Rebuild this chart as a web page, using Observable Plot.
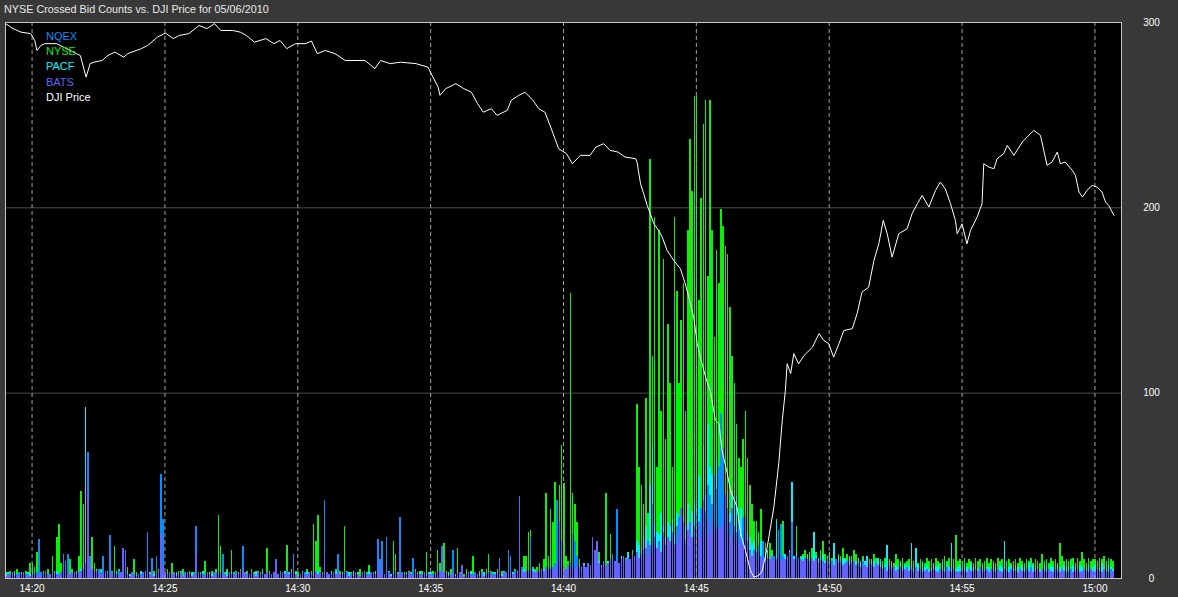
<!DOCTYPE html>
<html><head><meta charset="utf-8">
<script src="https://cdn.jsdelivr.net/npm/d3@7"></script>
<script src="https://cdn.jsdelivr.net/npm/@observablehq/plot@0.6"></script>
<style>
html,body{margin:0;padding:0;background:#383838;}
#wrap{position:relative;width:1178px;height:597px;overflow:hidden;background:#383838;}
#title{position:absolute;left:4px;top:3px;height:16px;line-height:16px;font:10.8px "Liberation Sans",Arial,sans-serif;color:#e8e8e8;white-space:nowrap;}
#chart{position:absolute;left:0;top:0;}
#legend{position:absolute;left:46px;top:29px;font:11px "Liberation Sans",Arial,sans-serif;line-height:15.2px;}
</style></head><body>
<div id="wrap"><div id="chart"></div><div id="title"></div><div id="legend"></div></div>
<script>
const titleText = "NYSE Crossed Bid Counts vs. DJI Price for 05/06/2010";
const seriesNames = ["NQEX", "NYSE", "PACF", "BATS"];
const seriesColors = {NQEX: "#0a8cff", NYSE: "#0af00a", PACF: "#00f0ff", BATS: "#6262ff"};
const djiName = "DJI Price";
const startTime = "2010-05-06T14:19:00Z";
const endTime = "2010-05-06T15:01:00Z";
const stepSeconds = 5;          // counts sampled every 5 s, one row per minute
const yTicks = [0, 100, 200, 300];
const xTickLabels = ["14:20","14:25","14:30","14:35","14:40","14:45","14:50","14:55","15:00"];

// crossed bid counts, rows = minutes from 14:19, 12 samples (5 s) each
const nqex = [
[1,0,2,1,0,1,3,1,0,2,1,0],
[1,2,0,21,3,1,0,2,1,4,2,1],
[2,1,13,9,13,2,1,3,1,2,4,2],
[6,68,10,4,3,2,5,2,12,3,2,23],
[3,1,2,4,1,16,15,2,1,3,2,1],
[1,2,1,3,25,2,11,1,12,3,56,32],
[2,1,3,1,2,0,1,2,1,3,1,2],
[1,2,28,3,1,2,1,0,2,1,3,1],
[2,1,13,2,1,3,1,2,1,2,3,17],
[1,2,1,0,2,1,3,1,2,1,0,2],
[1,0,2,1,3,1,2,1,2,1,13,2],
[1,2,1,3,1,0,2,1,3,2,1,2],
[42,3,1,2,1,2,13,1,2,1,3,1],
[2,1,0,2,1,3,1,2,1,0,2,1],
[21,5,20,2,22,3,1,2,4,2,33,3],
[2,1,3,1,11,2,1,2,1,3,1,2],
[1,2,1,3,1,2,1,2,1,2,15,1],
[2,1,3,1,2,1,0,2,1,2,1,3],
[1,2,1,3,2,1,2,11,1,2,3,15],
[12,2,1,3,44,6,3,2,4,22,3,2],
[3,2,4,3,6,4,5,3,8,42,31,20],
[6,4,5,8,24,20,12,4,3,5,2,4],
[3,22,10,18,4,3,5,3,4,6,13,5],
[37,4,5,6,10,5,7,6,9,8,11,12],
[12,16,10,18,40,15,12,20,14,18,12,16],
[15,18,12,20,33,22,30,16,22,15,20,25],
[35,30,38,42,36,50,45,40,55,48,60,89],
[70,45,38,30,38,28,25,30,22,33,33,20],
[15,12,10,14,18,12,20,8,10,6,9,12],
[10,26,29,12,8,10,14,30,9,12,8,7],
[6,8,5,9,4,7,5,8,6,5,7,4],
[5,3,6,4,5,3,4,6,3,5,2,4],
[3,4,2,5,3,2,4,3,2,3,4,2],
[2,3,1,4,2,3,2,1,3,2,4,2],
[3,2,1,2,4,2,3,1,2,3,2,1],
[2,1,3,2,1,2,4,2,1,3,2,2],
[1,3,2,1,2,3,1,2,3,1,2,3],
[2,1,2,3,1,2,2,3,1,2,1,2],
[3,2,1,2,3,1,2,1,3,2,2,1],
[2,1,3,1,2,2,1,3,2,1,2,3],
[1,2,2,3,1,2,3,2,1,2,3,1],
[2,1,3,2,1,2,3,2,1]
];
const nyse = [
[3,2,4,1,3,5,2,3,1,4,2,8],
[8,6,14,3,2,4,3,5,2,12,4,22],
[29,8,4,6,3,10,5,3,4,12,47,40],
[10,6,5,22,8,4,3,5,3,2,4,3],
[4,17,3,5,2,4,3,6,2,3,10,3],
[2,4,3,2,5,3,2,4,3,5,2,3],
[3,5,2,8,3,2,4,3,5,2,3,4],
[2,3,5,2,3,4,9,3,2,4,3,5],
[34,17,4,3,5,2,15,3,4,2,5,3],
[3,4,2,5,3,2,4,3,5,2,16,4],
[2,3,5,2,4,3,2,18,3,5,2,4],
[3,2,4,3,5,2,4,29,20,34,6,3],
[5,3,2,4,3,5,2,4,3,28,4,2],
[3,4,2,3,5,2,4,3,7,2,3,4],
[2,3,5,2,4,3,2,20,13,3,4,2],
[3,2,4,3,2,5,3,2,4,3,14,3],
[2,4,3,15,8,12,19,4,3,5,3,2],
[16,3,4,2,5,3,4,12,3,2,4,5],
[3,5,13,4,3,2,5,3,4,3,2,4],
[4,3,5,4,8,5,12,12,25,26,6,5],
[6,8,5,10,46,12,37,30,52,36,50,72],
[51,12,9,154,46,40,30,10,6,8,5,7],
[5,6,4,8,14,5,7,46,9,24,6,5],
[6,8,7,9,10,12,8,15,10,94,60,50],
[40,97,35,226,120,195,60,188,90,172,75,137],
[105,60,195,155,105,139,159,90,188,237,209,260],
[260,150,205,245,258,163,258,188,130,177,159,199],
[190,179,175,146,120,105,83,65,60,75,90,65],
[50,40,31,31,25,37,20,19,15,19,15,10],
[32,14,10,31,12,9,13,8,11,28,10,12],
[13,15,11,14,16,12,14,11,15,20,13,12],
[14,11,15,10,13,12,16,11,13,10,12,15],
[13,10,9,12,8,12,10,9,13,11,8,10],
[9,11,8,10,9,8,13,10,9,11,8,9],
[10,8,9,11,8,10,9,8,11,9,10,8],
[11,9,8,10,12,9,11,8,10,23,9,10],
[9,11,8,10,9,8,11,9,10,8,9,11],
[8,10,9,8,11,9,10,8,9,10,8,9],
[10,8,11,9,8,10,9,11,8,10,9,8],
[13,9,10,8,11,9,10,8,19,12,9,10],
[9,10,11,8,11,9,14,10,8,11,9,10],
[10,9,11,10,12,9,11,10,9]
];
const pacf = [
[2,3,1,2,4,1,2,3,1,2,3,2],
[3,1,2,4,2,1,3,2,1,3,2,4],
[2,3,1,2,3,2,4,1,3,2,5,8],
[92,20,6,4,3,5,2,4,3,2,3,2],
[3,2,4,2,1,3,2,4,2,3,1,2],
[2,3,1,4,2,3,1,2,3,2,4,3],
[1,2,3,2,1,3,2,4,1,2,3,2],
[3,2,4,1,2,3,2,1,3,2,1,4],
[2,3,1,2,4,2,3,2,1,3,2,2],
[3,1,2,3,2,4,1,2,3,2,3,1],
[2,3,2,1,3,2,4,2,3,1,2,3],
[1,2,4,2,3,1,2,3,2,4,2,1],
[3,2,1,3,2,4,2,1,3,2,1,3],
[2,4,2,3,1,2,3,2,4,1,2,3],
[3,2,3,1,2,4,2,3,1,2,3,2],
[2,3,1,2,3,2,1,4,2,3,2,3],
[3,1,2,4,2,3,2,1,3,2,4,2],
[2,3,2,1,3,2,4,2,3,1,2,3],
[3,2,4,2,1,3,2,3,2,4,2,3],
[2,3,2,4,3,2,5,3,4,3,5,4],
[3,4,2,5,3,4,6,3,5,4,6,5],
[6,5,7,5,8,6,5,7,6,8,5,6],
[6,8,7,5,9,7,8,6,9,7,10,8],
[10,8,12,9,11,14,10,13,12,20,18,15],
[22,28,20,50,71,30,25,24,35,28,22,30],
[28,32,24,35,30,38,34,28,40,30,36,42],
[40,55,30,71,45,83,60,56,40,65,50,77],
[60,45,47,35,47,40,44,30,38,32,31,25],
[22,18,20,15,17,20,14,12,15,11,13,10],
[31,12,14,10,13,11,15,52,12,14,10,11],
[12,10,13,11,9,25,12,10,11,13,9,12],
[11,9,19,10,12,9,11,10,8,12,10,9],
[9,11,8,10,9,12,8,10,9,8,11,9],
[6,7,18,6,8,5,7,6,8,6,7,5],
[7,19,6,16,7,5,8,6,7,5,6,8],
[6,7,5,8,6,7,6,19,7,5,6,7],
[5,7,6,5,8,6,7,5,6,7,5,6],
[6,5,7,6,5,7,6,20,5,6,7,5],
[7,6,5,7,6,5,8,6,7,5,6,5],
[5,7,6,5,7,6,5,7,6,5,7,6],
[6,5,7,6,5,7,6,5,6,7,5,6],
[7,5,6,8,6,5,7,6,5]
];
const bats = [
[1,2,1,3,1,2,1,2,3,1,2,1],
[2,1,3,2,1,2,4,1,2,3,1,2],
[1,3,2,6,4,2,3,1,2,3,4,5],
[8,42,12,5,3,4,2,3,2,4,3,2],
[2,3,1,2,3,16,15,2,1,3,2,1],
[2,1,3,2,4,2,3,1,2,3,24,6],
[3,2,1,2,3,1,2,3,1,2,3,2],
[1,2,13,3,2,1,2,3,2,1,2,3],
[2,3,4,2,1,3,2,1,3,2,4,5],
[3,1,2,3,2,1,3,2,1,2,3,1],
[2,3,10,2,1,3,2,4,2,3,5,2],
[1,2,3,1,2,3,2,1,3,2,3,1],
[12,3,2,1,3,2,4,2,1,3,2,1],
[2,1,3,2,1,2,3,1,2,3,1,2],
[3,10,2,1,3,2,1,2,3,2,4,2],
[1,2,3,2,1,3,2,1,2,3,1,2],
[2,1,2,3,4,17,3,2,1,2,3,1],
[2,3,7,1,2,3,2,1,3,2,1,2],
[1,2,3,2,1,2,3,2,1,3,2,4],
[3,2,4,3,27,5,3,4,3,5,4,3],
[4,3,5,4,6,5,4,6,5,8,6,5],
[6,5,7,6,8,5,7,6,5,7,6,8],
[7,22,15,20,8,6,9,7,8,10,8,9],
[9,8,10,12,9,11,10,13,12,14,11,13],
[15,12,20,14,18,22,16,20,14,25,18,22],
[20,25,18,28,22,38,24,20,26,30,22,28],
[25,30,22,28,26,32,24,30,27,25,29,27],
[28,24,26,22,25,20,23,18,21,17,19,15],
[14,12,15,10,13,11,12,9,11,10,12,9],
[10,12,9,11,10,12,9,11,10,9,11,10],
[9,11,10,8,10,9,11,8,10,9,8,10],
[8,9,7,10,8,9,7,8,9,7,8,9],
[7,8,6,9,7,6,8,7,6,8,7,6],
[5,6,4,7,5,6,4,5,6,4,5,6],
[4,5,3,6,4,5,3,4,5,3,4,5],
[4,3,5,4,3,6,4,3,5,4,3,4],
[5,4,3,5,4,3,5,4,6,3,4,5],
[3,5,4,3,5,4,3,5,4,3,5,4],
[4,3,5,4,3,5,4,6,3,4,5,3],
[5,4,3,5,4,3,5,4,3,5,4,3],
[4,5,3,4,5,3,4,5,4,3,5,4],
[3,5,4,3,5,4,3,5,4]
];

// DJI price trace, plotted on the chart's 0-300 scale
const djiSeconds = [0,17,35,57,66,71,80,89,115,160,169,182,191,200,218,231,247,267,276,307,321,343,361,379,392,414,437,455,472,486,513,530,544,562,588,606,620,635,655,678,691,704,722,744,767,812,834,847,869,892,927,954,963,977,981,994,1017,1035,1052,1066,1079,1097,1110,1133,1142,1159,1173,1191,1204,1218,1231,1249,1267,1280,1298,1320,1333,1351,1365,1383,1399,1423,1426,1434,1441,1449,1456,1464,1475,1483,1494,1509,1524,1535,1543,1554,1562,1569,1581,1592,1603,1611,1618,1630,1637,1652,1660,1671,1682,1690,1701,1709,1720,1735,1746,1754,1761,1765,1773,1780,1791,1803,1822,1837,1848,1859,1870,1882,1893,1912,1923,1934,1949,1961,1972,1982,1991,2002,2017,2036,2047,2059,2070,2085,2100,2111,2122,2134,2145,2149,2160,2171,2179,2194,2205,2209,2220,2232,2239,2254,2262,2277,2296,2307,2322,2337,2352,2363,2375,2382,2393,2409,2416,2424,2432,2442,2454,2465,2476,2484,2491,2503];
const djiLevel = [299.4,296.7,294.8,294,290.3,284.9,287.6,288.6,288.6,283.2,282.2,270.5,277.8,278.6,279.5,282.2,284,281.3,283.2,285.9,287.6,292.1,294.3,291.3,293,294,298.4,296.7,299.4,295.7,295.7,294.8,293,289.4,291.3,288.6,290.3,285.9,288.6,288.6,290,283.2,284.9,283.2,279.5,279.5,275.1,279.5,277.8,278.6,277.8,275.9,271.5,265.1,260.7,264.3,267,264.3,262.4,256.2,251.6,253.5,249.9,252.6,258,260.7,262.4,258,253.5,251.6,243.6,231.9,229.2,223.8,228.3,228.3,232.8,234.6,231,230.1,227.4,226.5,224.7,213,207.6,201.3,196.8,191.4,187.8,184.2,177,171.6,167.1,159,151.8,141,126.7,119.4,108.6,100.6,85.3,83.5,69.1,56.5,47.5,38.5,24.1,15.1,4.3,0.7,1.6,4.3,16.9,38.5,61.9,85.3,101.5,115.9,110.6,121.3,115.9,120.3,124.8,132.1,128.4,126.7,119.4,126.7,133.8,134.8,142.9,154.5,157.2,171.6,180.6,193.2,186,173.4,186,188.7,196.8,202.2,206.7,200.4,209.4,213.9,210.3,202.2,193.2,186,191.4,180.6,187.8,195,202.2,223.8,222,221.1,226.5,229.2,233.7,228.3,235.5,238.2,241.8,239.1,222.9,224.7,230.1,223.8,224.7,220.2,217.5,208.5,205.8,209.4,212.1,211.2,208.5,203.1,201.3,195.9];

// ---- build tables ----
const t0 = new Date(startTime).getTime();
const seriesData = {NQEX: nqex, NYSE: nyse, PACF: pacf, BATS: bats};
function rowsFor(name) {
  const out = [];
  seriesData[name].forEach((minute, m) => minute.forEach((v, j) => {
    const s = m * 60 + j * stepSeconds;
    out.push({t1: new Date(t0 + s * 1000), t2: new Date(t0 + (s + stepSeconds) * 1000), v});
  }));
  return out;
}
const dji = djiSeconds.map((s, i) => ({t: new Date(t0 + s * 1000), v: djiLevel[i]}));
const xTicks = xTickLabels.map(l => new Date("2010-05-06T" + l + ":00Z"));
const drawOrder = ["NYSE", "PACF", "NQEX", "BATS"];
const font = "'Liberation Sans', Arial, sans-serif";

const chart = Plot.plot({
  width: 1178, height: 597,
  marginTop: 22, marginBottom: 19, marginLeft: 5, marginRight: 57,
  style: {background: "transparent", color: "#ffffff", fontFamily: font, fontSize: "10px"},
  x: {type: "utc", domain: [new Date(startTime), new Date(endTime)]},
  y: {domain: [0, 300]},
  marks: [
    Plot.frame({fill: "#000000"}),
    Plot.ruleY([100, 200], {stroke: "#4e4e4e", strokeWidth: 1}),
    ...drawOrder.map(name => Plot.rect(rowsFor(name), {
      x1: "t1", x2: "t2", y1: 0, y2: "v", fill: seriesColors[name],
      insetLeft: 0, insetRight: 0.6, shapeRendering: "crispEdges"
    })),
    Plot.ruleX(xTicks, {stroke: "#a0a0a0", strokeWidth: 1, strokeDasharray: "4,3"}),
    Plot.line(dji, {x: "t", y: "v", stroke: "#ffffff", strokeWidth: 1}),
    Plot.frame({stroke: "#c4c4c4", strokeWidth: 1}),
    Plot.axisX(xTicks, {tickSize: 0, tickPadding: 6, tickFormat: d3.utcFormat("%H:%M"), label: null, fill: "#ffffff"}),
    Plot.axisY(yTicks, {anchor: "right", tickSize: 0, tickPadding: 30, textAnchor: "middle", label: null, fill: "#ffffff"})
  ]
});
document.getElementById("title").textContent = titleText;
document.getElementById("chart").appendChild(chart);
const legend = document.getElementById("legend");
[...seriesNames, djiName].forEach(n => {
  const d = document.createElement("div");
  d.textContent = n;
  d.style.color = seriesColors[n] || "#ffffff";
  legend.appendChild(d);
});
</script>
</body></html>
